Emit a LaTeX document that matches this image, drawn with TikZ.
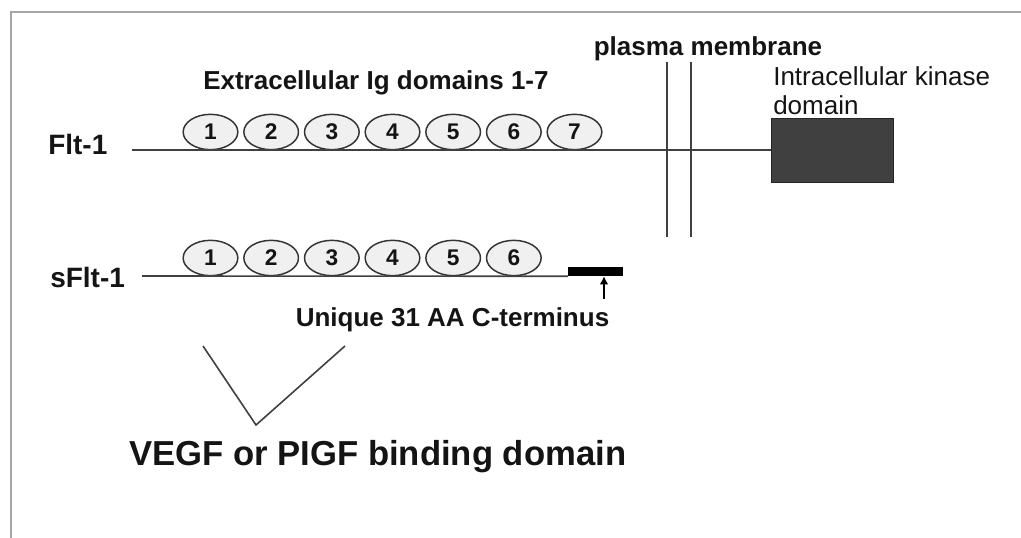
\documentclass[tikz,border=0pt]{standalone}
\usepackage{fontspec}
\setmainfont{Liberation Sans}
\usetikzlibrary{positioning}
\usetikzlibrary{shapes.geometric}
\usetikzlibrary{arrows.meta}

\tikzset{
    igdom/.style={draw=black!80, fill=black!6, ellipse, line width=1.1pt,
        minimum width=41pt, minimum height=26.5pt, inner sep=0pt,
        font=\bfseries\fontsize{17}{20}\selectfont},
    lbl/.style={inner sep=0pt, font=\bfseries\fontsize{19.5}{22}\selectfont},
    chain/.style={draw=black!75, line width=1.2pt},
}

\begin{document}
\begin{tikzpicture}[x=0.75pt, y=-0.75pt, text=black!92]
        \useasboundingbox (0,0) rectangle (1021,538);
        \draw[black!35, line width=1pt] (11,538) -- (11,12) -- (1021,12);

        % Flt-1
        \node[lbl, anchor=base west, font=\bfseries\fontsize{21}{24}\selectfont] (flt) at (48,155) {Flt-1};
        \node[lbl, anchor=base west] (extra) at (203,90) {Extracellular Ig domains 1-7};
        \node[igdom] (ig_11) at (210.5,132) {1};
        \node[igdom, right = 3.4pt of ig_11] (ig_12) {2};
        \node[igdom, right = 3.4pt of ig_12] (ig_13) {3};
        \node[igdom, right = 3.4pt of ig_13] (ig_14) {4};
        \node[igdom, right = 3.4pt of ig_14] (ig_15) {5};
        \node[igdom, right = 3.4pt of ig_15] (ig_16) {6};
        \node[igdom, right = 3.4pt of ig_16] (ig_17) {7};
        \node[draw=black!85, fill=black!75, minimum width=91.5pt, minimum height=48pt] (kinase) at (832,150) {};
        \node[anchor=north west, inner sep=0pt, align=left, font=\fontsize{19.5}{21.75}\selectfont] (kinase_lbl) at (773,66) {Intracellular kinase\\domain};
        \coordinate (flt_start) at (132,150);
        \draw[chain] (flt_start) -- (kinase.west);

        % plasma membrane
        \node[lbl, anchor=base] (membrane) at (708,56) {plasma membrane};
        \coordinate (mem_a) at (667,62);
        \coordinate (mem_b) at (691,62);
        \draw[chain] (mem_a) -- ++(0,175);
        \draw[chain] (mem_b) -- ++(0,175);

        % sFlt-1
        \node[lbl, anchor=base west, font=\bfseries\fontsize{21}{24}\selectfont] (sflt) at (50,288) {sFlt-1};
        \node[igdom] (ig_21) at (210.5,258) {1};
        \node[igdom, right = 3.4pt of ig_21] (ig_22) {2};
        \node[igdom, right = 3.4pt of ig_22] (ig_23) {3};
        \node[igdom, right = 3.4pt of ig_23] (ig_24) {4};
        \node[igdom, right = 3.4pt of ig_24] (ig_25) {5};
        \node[igdom, right = 3.4pt of ig_25] (ig_26) {6};
        \node[fill=black, inner sep=0pt, minimum width=41pt, minimum height=6.75pt] (cterm) at (595.5,271.5) {};
        \coordinate (sflt_start) at (142,276);
        \draw[chain] (sflt_start) -- (cterm.south west);
        \coordinate (cterm_tail) at (604,299);
        \draw[-{Latex[length=6pt,width=6.5pt]}, black, line width=1.9pt] (cterm_tail) -- (cterm_tail |- cterm.south);
        \node[lbl, anchor=base] (cterm_lbl) at (452.5,327) {Unique 31 AA C-terminus};

        % binding domain
        \coordinate (v_left) at (203,346);
        \coordinate (v_bottom) at (256,425);
        \coordinate (v_right) at (345,346);
        \draw[chain] (v_left) -- (v_bottom) -- (v_right);
        \node[lbl, anchor=base west, font=\bfseries\fontsize{26}{30}\selectfont] (vegf) at (129,465) {VEGF or PIGF binding domain};
\end{tikzpicture}
\end{document}
